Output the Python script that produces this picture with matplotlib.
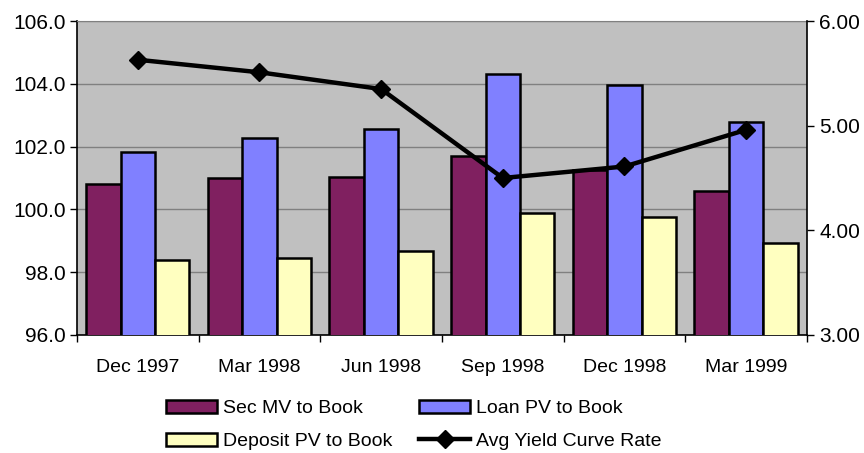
import matplotlib.pyplot as plt
import numpy as np
from matplotlib.ticker import FixedLocator, FormatStrFormatter

plt.rcParams['font.family'] = ['Liberation Sans', 'DejaVu Sans']

quarters = ["Dec 1997", "Mar 1998", "Jun 1998", "Sep 1998", "Dec 1998", "Mar 1999"]
sec_mv = [100.81, 101.0, 101.03, 101.7, 101.25, 100.59]
loan_pv = [101.84, 102.26, 102.56, 104.3, 103.96, 102.77]
deposit_pv = [98.39, 98.44, 98.68, 99.88, 99.75, 98.93]
yield_rate = [5.63, 5.51, 5.35, 4.50, 4.61, 4.96]

fs = 14

fig = plt.figure(figsize=(8.64, 4.53), dpi=100)
ax = fig.add_axes([0.0891, 0.2605, 0.8449, 0.6931])
ax.set_facecolor("#C0C0C0")

x = np.arange(len(quarters))
w = 0.283
bars1 = ax.bar(x - w, sec_mv, w, color="#802060", edgecolor="black", linewidth=1.8, zorder=3)
bars2 = ax.bar(x, loan_pv, w, color="#8080FF", edgecolor="black", linewidth=1.8, zorder=3)
bars3 = ax.bar(x + w, deposit_pv, w, color="#FFFFC0", edgecolor="black", linewidth=1.8, zorder=3)

ax.set_ylim(96, 106)
ax.set_xlim(-0.5, len(quarters) - 0.5)
ax.set_yticks(np.arange(96, 106.1, 2))
ax.yaxis.set_major_formatter(FormatStrFormatter("%.1f"))
ax.grid(axis="y", color="#808080", linewidth=1, zorder=0)
ax.set_axisbelow(True)

ax.set_xticks(x)
ax.set_xticklabels(quarters)
ax.xaxis.set_minor_locator(FixedLocator(np.arange(-0.5, len(quarters), 1)))
ax.tick_params(axis="x", which="major", length=0, pad=17, labelsize=fs)
ax.tick_params(axis="x", which="minor", length=5, width=1, direction="out")
ax.tick_params(axis="y", length=5, width=1, direction="out", labelsize=15, pad=3)

for side in ["left", "bottom"]:
    ax.spines[side].set_color("black")
    ax.spines[side].set_linewidth(1.2)
ax.spines["top"].set_color("#808080")
ax.spines["right"].set_visible(False)

ax2 = ax.twinx()
line, = ax2.plot(x, yield_rate, color="black", linewidth=3.2, marker="D", markersize=9, zorder=5)
ax2.set_ylim(3.0, 6.0)
ax2.set_yticks([3.0, 4.0, 5.0, 6.0])
ax2.yaxis.set_major_formatter(FormatStrFormatter("%.2f"))
ax2.tick_params(axis="y", length=5, width=1, direction="out", labelsize=15, pad=4)
for side in ["left", "bottom", "top"]:
    ax2.spines[side].set_visible(False)
ax2.spines["right"].set_color("black")
ax2.spines["right"].set_linewidth(1.2)

# legend fills column-wise, so order the entries to read row by row
fig.legend([bars1, bars3, bars2, line],
           ["Sec MV to Book", "Deposit PV to Book", "Loan PV to Book", "Avg Yield Curve Rate"],
           loc="center", bbox_to_anchor=(0.479, 0.062), ncol=2, frameon=False,
           fontsize=fs, handlelength=2.6, handleheight=0.68, handletextpad=0.3,
           columnspacing=1.4, labelspacing=0.8, borderpad=0)

fig.savefig("out.png", dpi=100)
